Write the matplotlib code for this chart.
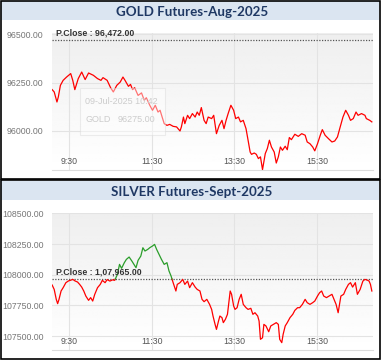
import numpy as np
import matplotlib
matplotlib.use("Agg")
import matplotlib.pyplot as plt
from matplotlib.patches import Rectangle

# minutes after 09:00 and last traded price
gold_minutes = [5, 8, 12, 14, 17, 21, 26, 32, 35, 38, 43, 48, 53, 58, 65, 71, 76, 79, 85, 90,
                94, 99, 104, 108, 111, 116, 119, 122, 125, 130, 135, 139, 142, 147, 151, 155, 159, 162, 165, 168,
                172, 176, 181, 186, 191, 193, 196, 198, 202, 205, 209, 213, 216, 219, 222, 226, 229, 232, 237, 240,
                244, 248, 252, 255, 258, 261, 265, 269, 272, 276, 279, 283, 287, 290, 293, 295, 299, 302, 305, 308,
                311, 315, 318, 321, 324, 328, 331, 334, 337, 340, 344, 347, 350, 353, 358, 363, 368, 373, 376, 380,
                384, 387, 391, 395, 398, 402, 407, 412, 416, 420, 424, 428, 432, 436, 439, 443, 447, 450, 455, 460,
                462, 467, 470]
gold_prices = [96214, 96202, 96150, 96176, 96236, 96262, 96279, 96297, 96262, 96214, 96271, 96305, 96266, 96300, 96288, 96271, 96262, 96276, 96262, 96224,
               96202, 96236, 96253, 96279, 96262, 96231, 96241, 96214, 96224, 96184, 96197, 96159, 96172, 96133, 96107, 96133, 96098, 96107, 96072, 96038,
               96029, 96034, 96024, 96021, 96000, 96021, 96072, 96038, 96081, 96064, 96090, 96072, 96098, 96081, 96121, 96055, 96038, 96072, 96064, 96081,
               95986, 96029, 96055, 96012, 96055, 96090, 96133, 96107, 96064, 96072, 96047, 96055, 96012, 95952, 95891, 95879, 95886, 95879, 95857, 95866,
               95800, 95883, 95909, 95952, 95917, 95891, 95834, 95866, 95917, 95900, 95921, 95903, 95966, 95955, 95983, 95972, 95986, 95978, 95943, 95934,
               95917, 95897, 95934, 95978, 96007, 95978, 95960, 95943, 95948, 95969, 96021, 96072, 96107, 96081, 96055, 96064, 96098, 96081, 96090, 96081,
               96064, 96055, 96047]

silver_minutes = [5, 8, 11, 13, 15, 18, 21, 25, 29, 32, 35, 38, 42, 45, 48, 51, 54, 58, 61, 64,
                  67, 71, 75, 78, 82, 85, 89, 93, 96, 100, 103, 106, 110, 113, 117, 121, 124, 127, 130, 134,
                  137, 140, 144, 147, 151, 154, 157, 161, 164, 168, 172, 175, 178, 181, 185, 187, 191, 195, 198, 202,
                  205, 209, 213, 216, 220, 223, 226, 230, 234, 237, 239, 242, 244, 247, 249, 252, 254, 257, 260, 264,
                  266, 269, 271, 274, 277, 280, 283, 287, 290, 294, 297, 300, 304, 306, 308, 311, 313, 316, 320, 323,
                  327, 331, 334, 336, 339, 341, 344, 347, 351, 355, 358, 362, 365, 369, 373, 376, 380, 384, 387, 391,
                  394, 397, 400, 404, 408, 412, 415, 418, 421, 425, 429, 432, 436, 439, 442, 446, 449, 453, 457, 460,
                  464, 466, 468, 470]
silver_prices = [107916, 107880, 107799, 107764, 107799, 107867, 107894, 107935, 107950, 107955, 107962, 107950, 107940, 107921, 107899, 107867, 107826, 107791, 107813, 107785,
                 107840, 107894, 107921, 107954, 107935, 107960, 107948, 107958, 107954, 108003, 108084, 108052, 108098, 108125, 108144, 108111, 108084, 108057, 108117, 108152,
                 108220, 108193, 108206, 108220, 108234, 108247, 108206, 108160, 108125, 108084, 108098, 108030, 107989, 107935, 107867, 107921, 107935, 107962, 107921, 107948,
                 107894, 107935, 107899, 107880, 107867, 107799, 107780, 107799, 107758, 107717, 107663, 107595, 107554, 107622, 107663, 107650, 107609, 107636, 107677, 107867,
                 107840, 107745, 107717, 107731, 107799, 107840, 107758, 107731, 107717, 107726, 107677, 107690, 107663, 107622, 107473, 107486, 107595, 107582, 107535, 107582,
                 107595, 107609, 107595, 107473, 107446, 107514, 107582, 107609, 107650, 107677, 107709, 107731, 107731, 107758, 107799, 107772, 107758, 107772, 107785, 107826,
                 107853, 107867, 107826, 107813, 107826, 107840, 107799, 107758, 107690, 107826, 107840, 107880, 107921, 107935, 107899, 107935, 107840, 107880, 107948, 107962,
                 107954, 107948, 107921, 107867]

gold_pclose = 96472.0
silver_pclose = 107965.0
gold_ticks = [96000, 96250, 96500]
silver_ticks = [107500, 107750, 108000, 108250, 108500]
time_ticks = [30, 150, 270, 390]
time_labels = ["9:30", "11:30", "13:30", "15:30"]

W, H = 383, 362
fig = plt.figure(figsize=(W / 100, H / 100), dpi=100)
fig.patch.set_facecolor("white")
plt.rcParams["font.family"] = ["Liberation Sans", "DejaVu Sans"]


def fr(x, y):
    return x / W, 1 - y / H


def split_at(t, v, level):
    # insert crossing points so the colour change sits on the P.Close line
    tt, vv = [t[0]], [v[0]]
    for i in range(1, len(t)):
        a, b = v[i - 1] - level, v[i] - level
        if a * b < 0:
            tt.append(t[i - 1] + (t[i] - t[i - 1]) * a / (a - b))
            vv.append(level)
        tt.append(t[i])
        vv.append(v[i])
    return np.array(tt, float), np.array(vv, float)


def panel(top, title, minutes, prices, pclose, pclose_txt, yticks, ylim, ylabels):
    # frame and title bar
    fig.add_artist(Rectangle(fr(0.5, top + 178.5), 379.5 / W, 178 / H, transform=fig.transFigure,
                             fill=False, edgecolor="black", lw=1.2, zorder=10))
    fig.add_artist(Rectangle(fr(1.2, top + 20), 378 / W, 19 / H, transform=fig.transFigure,
                             facecolor="#dbe5f1", edgecolor="none", zorder=1))
    fig.text(192 / W, 1 - (top + 11.5) / H, title, ha="center", va="center", fontsize=9.6,
             fontweight="bold", color="#1f3864", family=["Lato", "DejaVu Sans"])

    x0, y0 = fr(52, top + 170)
    ax = fig.add_axes([x0, y0, 321 / W, 137 / H])
    grad = np.linspace(0.935, 1.0, 100).reshape(-1, 1)
    ax.imshow(grad, extent=[0, 1, 0, 1], transform=ax.transAxes, cmap="gray", vmin=0, vmax=1,
              aspect="auto", zorder=0)
    ax.set_xlim(4.8, 471.7)
    ax.set_ylim(*ylim)
    for s in ax.spines.values():
        s.set_visible(False)
    ax.spines["bottom"].set_visible(True)
    ax.spines["bottom"].set_color("#dcdcdc")
    ax.set_yticks(yticks)
    ax.set_yticklabels(ylabels)
    ax.set_xticks(time_ticks)
    ax.set_xticklabels(time_labels)
    ax.tick_params(axis="y", length=0, pad=6, labelsize=6.3, labelcolor="#777777")
    ax.tick_params(axis="x", length=0, pad=-9, labelsize=6.3, labelcolor="#555555")
    ax.grid(True, color="#e3e3e3", lw=0.8, zorder=1)
    ax.set_axisbelow(True)

    ax.axhline(pclose, color="#555555", ls=(0, (1, 1.2)), lw=0.9, zorder=3)
    ax.annotate(pclose_txt, xy=(0, pclose), xycoords=("axes fraction", "data"), xytext=(3, 1.5),
                textcoords="offset points", fontsize=6.3, fontweight="bold", color="#333333",
                va="bottom", zorder=5)

    t, v = split_at(np.array(minutes, float), np.array(prices, float), pclose)
    ax.plot(t, np.where(v <= pclose, v, np.nan), color="#ff0000", lw=0.9, zorder=4)
    ax.plot(t, np.where(v >= pclose, v, np.nan), color="#2a9d2a", lw=0.9, zorder=4)
    return ax


ax1 = panel(0, "GOLD Futures-Aug-2025", gold_minutes, gold_prices, gold_pclose,
            "P.Close : 96,472.00", gold_ticks, (95798, 96507),
            ["%.2f" % v for v in gold_ticks])
ax2 = panel(180, "SILVER Futures-Sept-2025", silver_minutes, silver_prices, silver_pclose,
            "P.Close : 1,07,965.00", silver_ticks, (107386, 108503),
            ["%.2f" % v for v in silver_ticks])

# faded hover tooltip left on the gold chart
fig.add_artist(Rectangle(fr(80, 135), 85 / W, 47 / H, transform=fig.transFigure,
                         facecolor="white", alpha=0.45, edgecolor="#d8d8d8", lw=0.8, zorder=2))
fig.text(85 / W, 1 - 101 / H, "09-Jul-2025 10:42", fontsize=6.5, color="#cccccc", va="center", zorder=3)
fig.text(85 / W, 1 - 119 / H, "GOLD", fontsize=6.5, color="#cccccc", va="center", zorder=3)
fig.text(118 / W, 1 - 119 / H, "96275.00", fontsize=6.5, color="#cccccc", va="center", zorder=3)

fig.savefig("out.png", dpi=100)
